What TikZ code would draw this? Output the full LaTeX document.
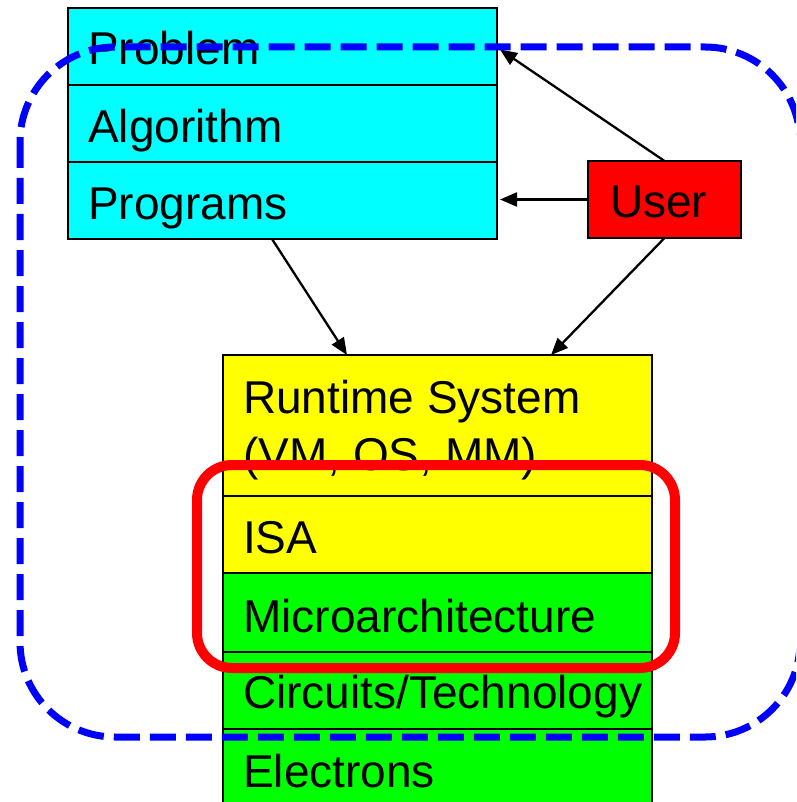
\documentclass[tikz,border=0pt]{standalone}
\usepackage{fontspec}
\setmainfont{Liberation Sans}
\usetikzlibrary{arrows.meta}
\definecolor{cyanfill}{RGB}{0,255,255}
\definecolor{yellowfill}{RGB}{255,255,0}
\definecolor{greenfill}{RGB}{0,255,0}
\definecolor{redfill}{RGB}{255,0,0}
\definecolor{bluedash}{RGB}{0,0,255}
\begin{document}
\begin{tikzpicture}[x=1pt,y=-1pt,
  row/.style={draw=black, line width=2pt, rectangle, minimum width=429pt, inner sep=0pt, outer sep=0pt, anchor=north west},
  lbl/.style={anchor=base west, inner sep=0pt, font=\fontsize{46}{57}\selectfont},
  conn/.style={line width=2.3pt, -{Triangle[length=17pt,width=14pt]}},
  layerbox/.style={draw=redfill, line width=10pt, rounded corners=35pt},
  scopebox/.style={draw=bluedash, line width=7pt, dash pattern=on 26pt off 10pt, rounded corners=95pt}
]
\clip (0,0) rectangle (796,802);
% top stack
\node[row, fill=cyanfill, minimum height=77pt] (prob) at (68,8) {};
\node[row, fill=cyanfill, minimum height=77pt] (alg) at (68,85) {};
\node[row, fill=cyanfill, minimum height=77pt] (prog) at (68,162) {};
\node[lbl] (probt) at ([shift={(20,57)}]prob.north west) {Problem};
\node[lbl] (algt) at ([shift={(20,58)}]alg.north west) {Algorithm};
\node[lbl] (progt) at ([shift={(20,58)}]prog.north west) {Programs};
% user
\node[draw=black, line width=2pt, fill=redfill, minimum width=153pt, minimum height=77pt, inner sep=0pt, outer sep=0pt, anchor=north west] (user) at (588,161) {};
\node[lbl] (usert) at ([shift={(22,57)}]user.north west) {User};
% lower stack
\node[row, fill=yellowfill, minimum height=141pt] (run) at (223,355) {};
\node[row, fill=yellowfill, minimum height=77pt] (isa) at (223,496) {};
\node[row, fill=greenfill, minimum height=79pt] (micro) at (223,573) {};
\node[row, fill=greenfill, minimum height=77pt] (circ) at (223,652) {};
\node[row, fill=greenfill, minimum height=100pt] (elec) at (223,729) {};
\node[lbl] (runt1) at ([shift={(20,58)}]run.north west) {Runtime System};
\node[lbl] (runt2) at ([shift={(20,115)}]run.north west) {(VM, OS, MM)};
\node[lbl] (isat) at ([shift={(20,57)}]isa.north west) {ISA};
\node[lbl] (microt) at ([shift={(20,59)}]micro.north west) {Microarchitecture};
\node[lbl] (circt) at ([shift={(20,56)}]circ.north west) {Circuits/Technology};
\node[lbl] (elect) at ([shift={(20,58)}]elec.north west) {Electrons};
% connectors
\coordinate (a1e) at ([shift={(3,3)}]prob.east);
\draw[conn] (user.north) -- (a1e);
\draw[conn] (user.west) -- ([xshift=3pt]user.west -| prog.east);
\coordinate (a3s) at ([xshift=204pt]prog.south west);
\coordinate (a3e) at ([xshift=124pt]run.north west);
\draw[conn] (a3s) -- (a3e);
\coordinate (a4e) at ([xshift=328pt]run.north west);
\draw[conn] (user.south) -- (a4e);
% outlines
\draw[layerbox] (197,465) rectangle (675,668);
\draw[scopebox] (20,47) rectangle (800,737);
\end{tikzpicture}
\end{document}
